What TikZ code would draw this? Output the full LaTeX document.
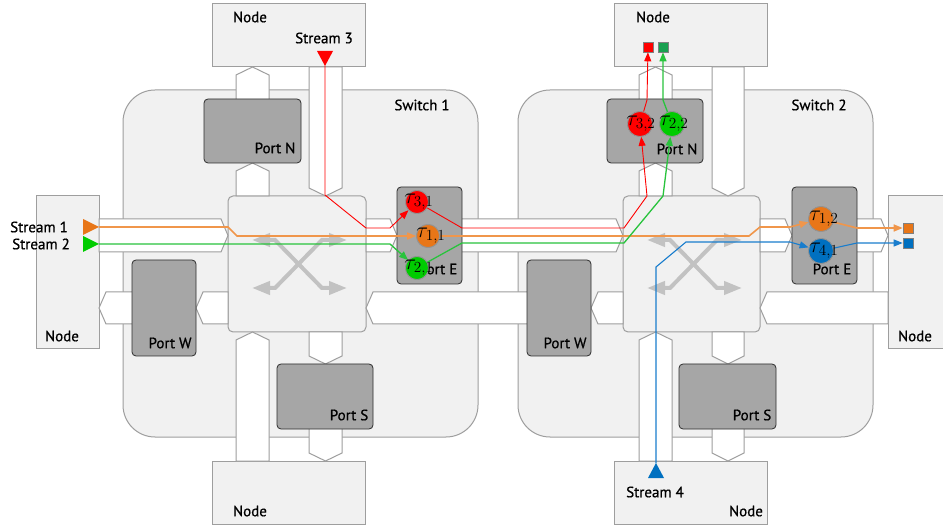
\RequirePackage{fix-cm}
\documentclass[tikz,border=0pt]{standalone}
\usepackage{fontspec}
\setmainfont{PT Sans}[FakeBold=0.7]
\usetikzlibrary{arrows.meta,fit,calc}
\definecolor{swfill}{RGB}{241,241,241}
\definecolor{swline}{RGB}{158,158,158}
\definecolor{portfill}{RGB}{166,166,166}
\definecolor{portline}{RGB}{45,45,45}
\definecolor{xarr}{RGB}{194,194,194}
\definecolor{corange}{RGB}{232,118,24}
\definecolor{lorange}{RGB}{240,150,75}
\definecolor{cred}{RGB}{255,0,0}
\definecolor{cgreen}{RGB}{0,204,0}
\definecolor{lgreen}{RGB}{40,195,60}
\definecolor{cblue}{RGB}{0,112,192}
\definecolor{lblue}{RGB}{25,125,205}
\definecolor{sqgreen}{RGB}{25,160,80}
\newcommand\pipeR[4]{\draw[pipe] (#1,#3) -- ({#2-7},#3) -- (#2,{(#3+#4)/2}) -- ({#2-7},#4) -- (#1,#4) -- cycle;}
\newcommand\pipeL[4]{\draw[pipe] (#2,#3) -- ({#1+7},#3) -- (#1,{(#3+#4)/2}) -- ({#1+7},#4) -- (#2,#4) -- cycle;}
\newcommand\pipeU[4]{\draw[pipe] (#1,#4) -- (#1,{#3+8}) -- ({(#1+#2)/2},#3) -- (#2,{#3+8}) -- (#2,#4) -- cycle;}
\newcommand\pipeD[4]{\draw[pipe] (#1,#3) -- (#1,{#4-8}) -- ({(#1+#2)/2},#4) -- (#2,{#4-8}) -- (#2,#3) -- cycle;}
\begin{document}
\begin{tikzpicture}[x=1pt,y=-1pt,
  font=\fontsize{15}{18}\selectfont,
  switchbox/.style={draw=swline, fill=swfill, line width=1pt, rounded corners=32pt, inner sep=0pt},
  nodebox/.style={draw=swline, fill=swfill, line width=1pt, inner sep=0pt},
  xbar/.style={draw=swline, fill=swfill, line width=1pt, rounded corners=5pt, inner sep=0pt},
  portbox/.style={draw=portline, fill=portfill, line width=0.8pt, rounded corners=4pt, inner sep=0pt},
  pipe/.style={draw=swline, fill=white, line width=1pt},
  lbl/.style={inner sep=0pt, text=black},
  taulbl/.style={inner sep=0pt, font=\fontsize{18}{20}\selectfont, scale=1.22, transform shape},
  tau/.style={circle, minimum size=23pt, inner sep=0pt, draw=gray!85, line width=0.8pt},
  taub/.style={tau, minimum size=25pt},
  sq/.style={minimum size=10pt, inner sep=0pt, draw=gray, line width=0.6pt},
  sline/.style={-{Triangle[length=9pt,width=7pt]}},
  oline/.style={draw=lorange, line width=1.6pt, sline},
  gline/.style={draw=lgreen, line width=1.3pt, sline},
  rline/.style={draw=cred, line width=0.9pt, sline},
  bline/.style={draw=lblue, line width=1.1pt, sline},
  xarrow/.style={draw=xarr, line width=4pt, {Triangle[length=18pt,width=13pt]}-{Triangle[length=18pt,width=13pt]}}
]
\useasboundingbox[fill=white] (0,0) rectangle (943,529);

% switches
\node[switchbox, fit={(123,90) (478,437)}] (sw1) {};
\node[switchbox, fit={(518,90) (873,437)}] (sw2) {};

% end nodes
\node[nodebox, fit={(212,4) (365,67)}] (ntop1) {};
\node[nodebox, fit={(614,4) (767,67)}] (ntop2) {};
\node[nodebox, fit={(36,196) (99,349)}] (nleft) {};
\node[nodebox, fit={(888,196) (955,349)}] (nright) {};
\node[nodebox, fit={(212,461) (365,524)}] (nbot1) {};
\node[nodebox, fit={(614,461) (767,524)}] (nbot2) {};

% crossbars
\node[xbar, fit={(228,196) (366,332)}] (xb1) {};
\node[xbar, fit={(623,196) (760,332)}] (xb2) {};

% pipes: upper band
\pipeR{99}{228}{219}{252}
\pipeR{366}{397}{219}{252}
\pipeR{455}{623}{219}{252}
\pipeR{760}{792}{219}{252}
\pipeR{850}{888}{219}{252}
% lower band
\pipeL{99}{140}{292}{324}
\pipeL{196}{228}{292}{324}
\pipeL{366}{535}{292}{324}
\pipeL{591}{623}{292}{324}
\pipeL{760}{888}{292}{324}
% vertical switch 1
\pipeU{236}{269}{67}{105}
\pipeU{236}{269}{163}{196}
\pipeU{236}{269}{332}{461}
\pipeD{309}{342}{67}{196}
\pipeD{309}{342}{332}{364}
\pipeD{309}{342}{420}{461}
% vertical switch 2
\pipeU{639}{672}{67}{105}
\pipeU{639}{672}{163}{196}
\pipeU{639}{672}{332}{461}
\pipeD{712}{744}{67}{196}
\pipeD{712}{744}{332}{364}
\pipeD{712}{744}{420}{461}

% ports
\node[portbox, fit={(204,99) (301,163)}] (pn1) {};
\node[portbox, fit={(397,187) (462,284)}] (pe1) {};
\node[portbox, fit={(132,260) (196,356)}] (pw1) {};
\node[portbox, fit={(277,364) (373,429)}] (ps1) {};
\node[portbox, fit={(607,99) (703,163)}] (pn2) {};
\node[portbox, fit={(792,187) (857,284)}] (pe2) {};
\node[portbox, fit={(527,260) (591,356)}] (pw2) {};
\node[portbox, fit={(679,364) (776,429)}] (ps2) {};

% crossbar arrows
\draw[xarrow] (252,240) -- (275,240) -- (322,288) -- (347,288);
\draw[xarrow] (252,288) -- (275,288) -- (322,240) -- (347,240);
\draw[xarrow] (647,240) -- (670,240) -- (717,288) -- (742,288);
\draw[xarrow] (647,288) -- (670,288) -- (717,240) -- (742,240);

% labels
\node[lbl] (lsw1) at (422,105) {Switch 1};
\node[lbl] (lsw2) at (819,105) {Switch 2};
\node[lbl] (lnt1) at (250,17) {Node};
\node[lbl] (lnt2) at (653,17) {Node};
\node[lbl] (lnl) at (62,336) {Node};
\node[lbl] (lnr) at (915,336) {Node};
\node[lbl] (lnb1) at (250,511) {Node};
\node[lbl] (lnb2) at (746,511) {Node};
\node[lbl] (ls1) at (39,227) {Stream 1};
\node[lbl] (ls2) at (41,244) {Stream 2};
\node[lbl] (ls3) at (324,38) {Stream 3};
\node[lbl] (ls4) at (655,492) {Stream 4};
\node[lbl] (lpn1) at (275,148) {Port N};
\node[lbl] (lpn2) at (677,149) {Port N};
\node[lbl] (lpw1) at (170,343) {Port W};
\node[lbl] (lpw2) at (565,343) {Port W};
\node[lbl] (lps1) at (349,415) {Port S};
\node[lbl] (lps2) at (752,415) {Port S};
\node[lbl] (lpe1) at (438,269) {Port E};
\node[lbl] (lpe2) at (832,269) {Port E};

% stream sources
\fill[corange] (83,219) -- (99,227) -- (83,235) -- cycle;
\coordinate (st1) at (99,227);
\fill[cgreen] (83,236) -- (99,244) -- (83,252) -- cycle;
\coordinate (st2) at (99,244);
\fill[cred] (317,51) -- (333,51) -- (325,66) -- cycle;
\coordinate (st3) at (325,66);
\fill[cblue] (648,478) -- (664,478) -- (656,463) -- cycle;
\coordinate (st4) at (656,463);

% sinks
\node[sq, fill=cred] (sqr) at (648,47) {};
\node[sq, fill=sqgreen] (sqg) at (663,47) {};
\node[sq, fill=corange] (sqo) at (908,228) {};
\node[sq, fill=cblue] (sqb) at (908,243) {};

% queue circles (coordinates for lines)
\node[tau, fill=cred] (t31) at (417,202) {};
\node[tau, fill=corange] (t11) at (428,236) {};
\node[tau, fill=cgreen] (t21) at (417,268) {};
\node[taub, fill=cred] (t32) at (640,124) {};
\node[taub, fill=cgreen] (t22) at (672,124) {};
\node[taub, fill=corange] (t12) at (821,219) {};
\node[taub, fill=cblue] (t41) at (821,251) {};

% streams
\draw[oline] (st1) -- (228,227) -- (237,236) -- (t11);
\draw[oline] (t11) -- (749,236) -- (760,227) -- (790,227) -- (t12);
\draw[oline] (t12) -- (857,228) -- (sqo);
\draw[gline] (st2) -- (390,244) -- (t21);
\draw[gline] (t21) -- (462,243) -- (624,243) -- (663,196) -- (t22);
\draw[gline] (t22) -- (663,100) -- (sqg);
\draw[rline] (st3) -- (325,195) -- (366,228) -- (390,228) -- (t31);
\draw[rline] (t31) -- (462,228) -- (624,228) -- (647,196) -- (t32);
\draw[rline] (t32) -- (647,100) -- (sqr);
\draw[bline] (st4) -- (656,267) -- (686,242) -- (790,242) -- (t41);
\draw[bline] (t41) -- (857,243) -- (sqb);

% redraw circles above lines
\node[tau, fill=cred] at (t31) {};
\node[tau, fill=corange] at (t11) {};
\node[tau, fill=cgreen] at (t21) {};
\node[taub, fill=cred] at (t32) {};
\node[taub, fill=cgreen] at (t22) {};
\node[taub, fill=corange] at (t12) {};
\node[taub, fill=cblue] at (t41) {};

% queue labels
\node[taulbl] (lt31) at ($(t31)+(2,0)$) {$\tau_{3,1}$};
\node[taulbl] (lt11) at ($(t11)+(3,0)$) {$\tau_{1,1}$};
\node[taulbl] (lt21) at ($(t21)+(2,0)$) {$\tau_{2,1}$};
\node[taulbl] (lt32) at ($(t32)+(1,0)$) {$\tau_{3,2}$};
\node[taulbl] (lt22) at ($(t22)+(2,0)$) {$\tau_{2,2}$};
\node[taulbl] (lt12) at ($(t12)+(3,0)$) {$\tau_{1,2}$};
\node[taulbl] (lt41) at ($(t41)+(3,0)$) {$\tau_{4,1}$};
\end{tikzpicture}
\end{document}
